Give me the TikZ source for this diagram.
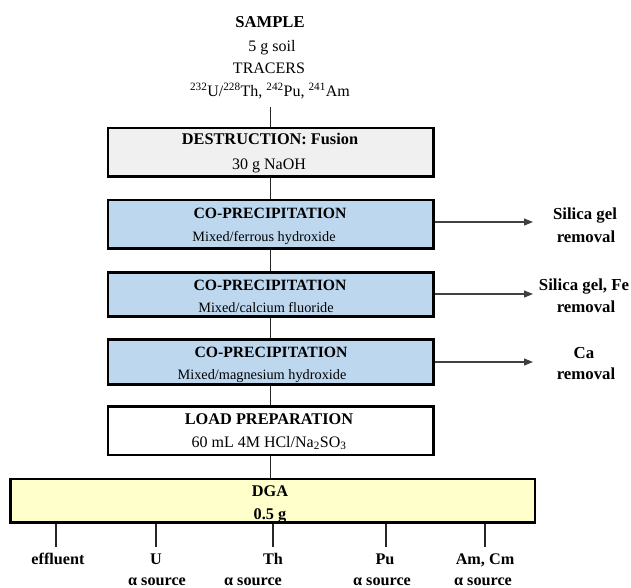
\documentclass[tikz,border=0pt]{standalone}
\usepackage{fontspec}
\setmainfont{Liberation Serif}
\usetikzlibrary{arrows.meta}
\definecolor{grayfill}{HTML}{F0F0F0}
\definecolor{bluefill}{HTML}{BDD7EE}
\definecolor{yellowfill}{HTML}{FFFFCC}
\begin{document}
\begin{tikzpicture}[x=1pt,y=-1pt,
  box/.style={draw=black, line width=2.6pt, rectangle, inner sep=0pt},
  tx/.style={anchor=base, inner sep=0pt},
  hd/.style={tx, font={\fontsize{15.7}{18}\selectfont\bfseries}},
  bd/.style={tx, font={\fontsize{14.3}{17}\selectfont}},
  hdL/.style={tx, font={\fontsize{16.3}{19}\selectfont\bfseries}},
  bdL/.style={tx, font={\fontsize{16}{19}\selectfont}},
  topB/.style={tx, font={\fontsize{16.6}{19}\selectfont\bfseries}},
  topR/.style={tx, font={\fontsize{16}{19}\selectfont}},
  side/.style={tx, font={\fontsize{16.8}{19}\selectfont\bfseries}},
  bot/.style={tx, font={\fontsize{16.2}{19}\selectfont\bfseries}},
  conn/.style={draw=black!85, line width=1.1pt},
  arr/.style={draw=black!75, line width=1.2pt, -{Triangle[length=9pt,width=7pt]}}
]
\useasboundingbox (0,0) rectangle (631,588);

% top text
\node[topB] (t1) at (270,28) {SAMPLE};
\node[topR] (t2) at (272,52) {5 g soil};
\node[topR] (t3) at (269,74) {TRACERS};
\node[topR] (t4) at (270,97) {\textsuperscript{232}U/\textsuperscript{228}Th, \textsuperscript{242}Pu, \textsuperscript{241}Am};

% boxes
\node[box, fill=grayfill, minimum width=325.3pt, minimum height=48.7pt] (b1) at (270.7,152.3) {};
\node[box, fill=bluefill, minimum width=325.3pt, minimum height=48.3pt] (b2) at (270.7,224.15) {};
\node[box, fill=bluefill, minimum width=325.3pt, minimum height=44.4pt] (b3) at (270.7,294.5) {};
\node[box, fill=bluefill, minimum width=325.3pt, minimum height=45pt] (b4) at (270.7,361.8) {};
\node[box, fill=white, minimum width=325.3pt, minimum height=48.3pt] (b5) at (270.7,430.85) {};
\node[box, fill=yellowfill, line width=2.8pt, minimum width=524.3pt, minimum height=43.7pt] (dga) at (272.85,500.85) {};

% box texts
\node[hdL] (b1a) at (270,145) {DESTRUCTION: Fusion};
\node[bdL] (b1b) at (269,169) {30 g NaOH};
\node[hd] (b2a) at (270,218) {CO-PRECIPITATION};
\node[bd] (b2b) at (264,241) {Mixed/ferrous hydroxide};
\node[hd] (b3a) at (270,290) {CO-PRECIPITATION};
\node[bd] (b3b) at (266,312) {Mixed/calcium fluoride};
\node[hd] (b4a) at (271,357) {CO-PRECIPITATION};
\node[bd] (b4b) at (262,379) {Mixed/magnesium hydroxide};
\node[hdL] (b5a) at (269,424) {LOAD PREPARATION};
\node[bdL] (b5b) at (269,447) {60 mL 4M HCl/Na\textsubscript{2}SO\textsubscript{3}};
\node[hdL] (da) at (270,496) {DGA};
\node[hdL] (db) at (270,519) {0.5 g};

% vertical connectors
\coordinate (ts) at (270.7,107);
\draw[conn] (ts) -- (b1.north);
\draw[conn] (b1.south) -- (b2.north);
\draw[conn] (b2.south) -- (b3.north);
\draw[conn] (b3.south) -- (b4.north);
\draw[conn] (b4.south) -- (b5.north);
\draw[conn] (b5.south) -- (b5.south |- dga.north);

% side arrows and labels
\coordinate (r1) at (533,222);
\coordinate (r2) at (533,294);
\coordinate (r3) at (533,362);
\draw[arr] (b2.east |- r1) -- (r1);
\draw[arr] (b3.east |- r2) -- (r2);
\draw[arr] (b4.east |- r3) -- (r3);
\node[side] (s1a) at (585,219) {Silica gel};
\node[side] (s1b) at (586,242) {removal};
\node[side] (s2a) at (584,290) {Silica gel, Fe};
\node[side] (s2b) at (586,312) {removal};
\node[side] (s3a) at (584,358) {Ca};
\node[side] (s3b) at (586,379) {removal};

% bottom outputs
\coordinate (e1) at (56,547);
\coordinate (e2) at (156,547);
\coordinate (e3) at (273,547);
\coordinate (e4) at (386,547);
\coordinate (e5) at (485,547);
\foreach \e in {e1,e2,e3,e4,e5} \draw[conn] (\e |- dga.south) -- (\e);
\node[bot] (o1) at (58,564) {effluent};
\node[bot] (o2) at (156,564) {U};
\node[bot] (o2b) at (157,585) {α source};
\node[bot] (o3) at (273,564) {Th};
\node[bot] (o3b) at (253,585) {α source};
\node[bot] (o4) at (385,564) {Pu};
\node[bot] (o4b) at (382,585) {α source};
\node[bot] (o5) at (485,564) {Am, Cm};
\node[bot] (o5b) at (483,585) {α source};
\end{tikzpicture}
\end{document}
